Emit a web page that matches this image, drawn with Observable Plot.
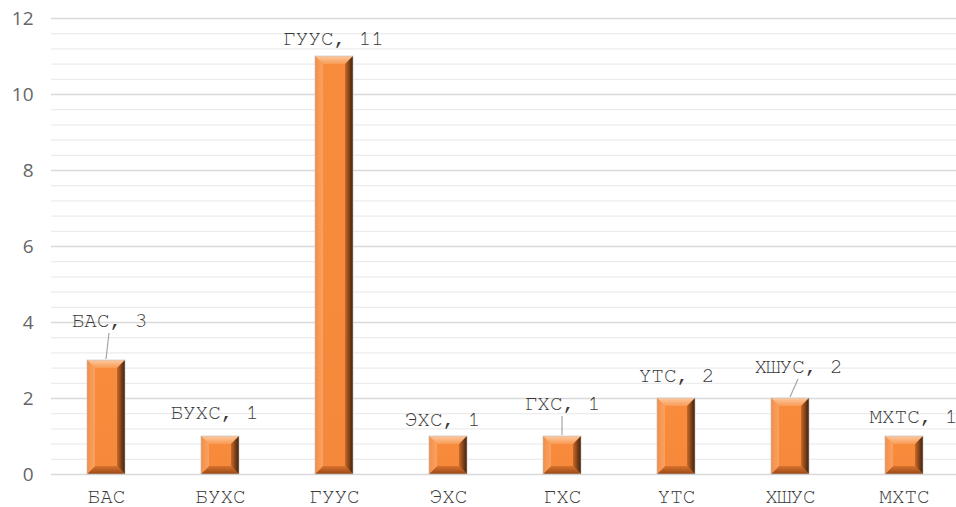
<!DOCTYPE html>
<html><head><meta charset="utf-8">
<script src="https://cdn.jsdelivr.net/npm/d3@7"></script>
<script src="https://cdn.jsdelivr.net/npm/@observablehq/plot@0.6"></script>
<style>body{margin:0;background:#fff;overflow:hidden}</style>
</head><body><div id="chart"></div>
<script>
const categories = ["БАС", "БУХС", "ГУУС", "ЭХС", "ГХС", "ҮТС", "ХШУС", "МХТС"];
const values = [3, 1, 11, 1, 1, 2, 2, 1];
const yTicks = [0, 2, 4, 6, 8, 10, 12];
const minorTicks = d3.range(31).map(i => +(i * 0.4).toFixed(1));
// label offsets (px) relative to bar top centre
const labelDx = [3, -6, -1, -6, 0, 0, 8, 9];
const labelDy = [-40, -24, -18, -17, -33, -23, -32, -20];
const hasLeader = [true, false, false, false, true, false, true, false];

const data = categories.map((c, i) => ({cat: c, value: values[i], dx: labelDx[i], dy: labelDy[i], leader: hasLeader[i]}));
const leaderData = data.filter(d => d.leader);

const MONO = "FreeMono, 'Courier New', monospace";
const NS = "http://www.w3.org/2000/svg";
function el(tag, attrs) {
  const e = document.createElementNS(NS, tag);
  for (const k in attrs) e.setAttribute(k, attrs[k]);
  return e;
}
function grad(id, x2, y2, stops) {
  const g = el("linearGradient", {id, x1: 0, y1: 0, x2, y2});
  stops.forEach(([o, c]) => g.appendChild(el("stop", {offset: o, "stop-color": c})));
  return g;
}

function bevel(index, scales, vals, dims, ctx, next) {
  const g = next(index, scales, vals, dims, ctx);
  const defs = el("defs", {});
  defs.appendChild(grad("bvTop", 0, 1, [[0, "#fdc9a0"], [1, "#f99b55"]]));
  defs.appendChild(grad("bvBot", 0, 1, [[0, "#d8722e"], [1, "#9a4816"]]));
  defs.appendChild(grad("bvLeft", 1, 0, [[0, "#f38f48"], [1, "#f9a262"]]));
  defs.appendChild(grad("bvRight", 1, 0, [[0, "#c9692a"], [1, "#3e1f0a"]]));
  defs.appendChild(grad("bvFace", 0, 1, [[0, "#f98c3c"], [1, "#f5883a"]]));
  g.insertBefore(defs, g.firstChild);
  for (const r of Array.from(g.querySelectorAll("rect"))) {
    const x = +r.getAttribute("x"), y = +r.getAttribute("y");
    const w = +r.getAttribute("width"), h = +r.getAttribute("height");
    const b = Math.min(8, h / 2, w / 2);
    r.setAttribute("fill", "url(#bvFace)");
    const polys = [
      ["bvTop", [[x, y], [x + w, y], [x + w - b, y + b], [x + b, y + b]]],
      ["bvBot", [[x, y + h], [x + w, y + h], [x + w - b, y + h - b], [x + b, y + h - b]]],
      ["bvLeft", [[x, y], [x + b, y + b], [x + b, y + h - b], [x, y + h]]],
      ["bvRight", [[x + w, y], [x + w - b, y + b], [x + w - b, y + h - b], [x + w, y + h]]]
    ];
    for (const [f, pts] of polys) {
      g.appendChild(el("polygon", {points: pts.map(p => p.join(",")).join(" "), fill: `url(#${f})`}));
    }
    g.appendChild(el("rect", {x, y, width: w, height: h, fill: "none", stroke: "#bdbdbd", "stroke-width": 0.6}));
  }
  return g;
}

function leaders(index, scales, vals, dims, ctx) {
  const sx = scales.x;
  let bw = 0;
  if (sx && typeof sx.bandwidth === "function") bw = sx.bandwidth();
  else if (scales.scales && scales.scales.x && scales.scales.x.bandwidth != null) bw = scales.scales.x.bandwidth;
  const g = el("g", {stroke: "#a6a6a6", "stroke-width": 1.2});
  for (const i of index) {
    const d = leaderData[i];
    const x0 = sx(d.cat) + bw / 2, y0 = scales.y(d.value);
    g.appendChild(el("line", {x1: x0, y1: y0 - 1, x2: x0 + d.dx, y2: y0 + d.dy + 13}));
  }
  return g;
}

const labelMarks = data.map(d => Plot.text([d], {
  x: "cat", y: "value", text: v => `${v.cat}, ${v.value}`,
  dx: d.dx, dy: d.dy, fontFamily: MONO, fontSize: 21, fill: "#3a3a3a"
}));

const chart = Plot.plot({
  width: 956, height: 507,
  marginLeft: 51, marginRight: 0, marginTop: 18, marginBottom: 33,
  x: {domain: categories, range: [49, 961], paddingInner: 0.667, paddingOuter: 0.333, label: null},
  y: {domain: [0, 12], label: null},
  style: {background: "#fff", overflow: "hidden"},
  marks: [
    Plot.gridY(minorTicks, {stroke: "#ececec", strokeOpacity: 1, strokeWidth: 1.2}),
    Plot.gridY(yTicks, {stroke: "#d9d9d9", strokeOpacity: 1, strokeWidth: 1.5}),
    Plot.axisY(yTicks, {tickSize: 0, tickPadding: 18, fontSize: 19, fontFamily: "'Open Sans', sans-serif", color: "#666666", label: null}),
    Plot.axisX({tickSize: 0, tickPadding: 14, fontSize: 21, fontFamily: MONO, color: "#3a3a3a", label: null}),
    Plot.barY(data, {x: "cat", y: "value", fill: "#f8893a", render: bevel}),
    Plot.link(leaderData, {x1: "cat", x2: "cat", y1: "value", y2: "value", render: leaders}),
    ...labelMarks
  ]
});
document.getElementById("chart").appendChild(chart);
</script>
</body></html>
